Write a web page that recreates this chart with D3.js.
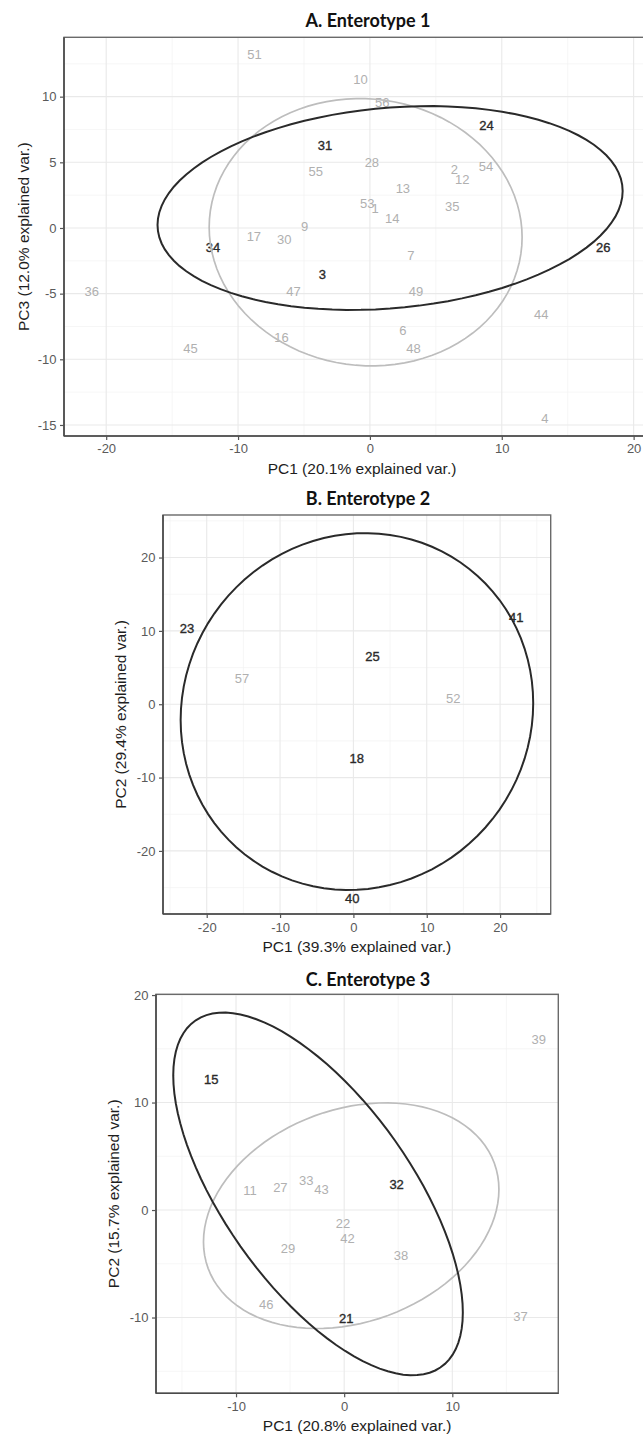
<!DOCTYPE html>
<html lang="en">
<head>
<meta charset="UTF-8">
<title>Enterotype PCA biplots</title>
<script src="https://d3js.org/d3.v7.min.js"></script>
<style>
    body { margin: 0; background: #fff; }
    svg { display: block; font-family: "Liberation Sans", Arial, sans-serif; }
    .panel-title { font-family: Lato, "Open Sans", sans-serif; font-weight: bold; font-size: 18px; fill: #111; }
    .axis-title { font-size: 15.5px; fill: #1e1e1e; }
    .tick text { font-size: 13px; fill: #5a5a5a; }
    .tick line { stroke: #555; stroke-width: 1.2; }
    .grid-major { stroke: #e9e9e9; stroke-width: 1.1; }
    .grid-minor { stroke: #f2f2f2; stroke-width: 0.7; }
    .lbl { font-size: 13px; }
    .lbl.dark { stroke: #2a2a2a; stroke-width: 0.35; }
</style>
</head>
<body>
<svg width="643" height="1435"></svg>
<script>
    // ---- data ----
    const panelTitles = ["A. Enterotype 1", "B. Enterotype 2", "C. Enterotype 3"];
    const xAxisTitles = ["PC1 (20.1% explained var.)", "PC1 (39.3% explained var.)", "PC1 (20.8% explained var.)"];
    const yAxisTitles = ["PC3 (12.0% explained var.)", "PC2 (29.4% explained var.)", "PC2 (15.7% explained var.)"];

    // panel A: sample id, PC1, PC3, group (1 = dark, 2 = grey)
    const idsA = [51, 10, 56, 24, 31, 28, 55, 2, 54, 12, 13, 53, 1, 35, 14, 9, 17, 30, 34, 26, 7, 3, 36, 47, 49, 44, 6, 16, 45, 48, 4];
    const pc1A = [-8.76, -0.71, 0.93, 8.85, -3.4, 0.15, -4.1, 6.4, 8.8, 7.0, 2.5, -0.2, 0.4, 6.25, 1.7, -4.95, -8.8, -6.5, -11.9, 17.7, 3.1, -3.6, -21.1, -5.8, 3.5, 13.0, 2.5, -6.7, -13.6, 3.3, 13.26];
    const pc3A = [13.2, 11.3, 9.6, 7.8, 6.3, 5.0, 4.3, 4.5, 4.7, 3.7, 3.0, 1.9, 1.5, 1.65, 0.7, 0.15, -0.64, -0.87, -1.5, -1.5, -2.1, -3.5, -4.8, -4.8, -4.8, -6.6, -7.8, -8.3, -9.2, -9.2, -14.5];
    const grpA = [2, 2, 2, 1, 1, 2, 2, 2, 2, 2, 2, 2, 2, 2, 2, 2, 2, 2, 1, 1, 2, 1, 2, 2, 2, 2, 2, 2, 2, 2, 2];

    // panel B: sample id, PC1, PC2, group
    const idsB = [23, 57, 18, 25, 40, 41, 52];
    const pc1B = [-22.7, -15.2, 0.45, 2.6, -0.15, 22.2, 13.6];
    const pc2B = [10.4, 3.5, -7.4, 6.5, -26.4, 11.9, 0.8];
    const grpB = [1, 2, 1, 1, 1, 1, 2];

    // panel C: sample id, PC1, PC2, group
    const idsC = [15, 11, 27, 33, 43, 22, 42, 29, 46, 21, 32, 38, 39, 37];
    const pc1C = [-12.3, -8.7, -5.9, -3.5, -2.1, -0.1, 0.3, -5.2, -7.2, 0.2, 4.85, 5.25, 18.0, 16.3];
    const pc2C = [12.2, 1.8, 2.1, 2.8, 1.95, -1.25, -2.6, -3.6, -8.8, -10.1, 2.4, -4.2, 15.9, -9.9];
    const grpC = [1, 2, 2, 2, 2, 2, 2, 2, 2, 1, 1, 2, 2, 2];

    // axis extents and ticks
    const xDomA = [-23.2, 22.0], yDomA = [-15.84, 14.52];
    const xDomB = [-25.96, 26.9], yDomB = [-28.6, 25.8];
    const xDomC = [-17.4, 19.8], yDomC = [-17.05, 20.07];
    const xTicksA = [-20, -10, 0, 10, 20], yTicksA = [-15, -10, -5, 0, 5, 10];
    const xMinorA = [-15, -5, 5, 15], yMinorA = [-12.5, -7.5, -2.5, 2.5, 7.5, 12.5];
    const xTicksB = [-20, -10, 0, 10, 20], yTicksB = [-20, -10, 0, 10, 20];
    const xMinorB = [-25, -15, -5, 5, 15, 25], yMinorB = [-25, -15, -5, 5, 15, 25];
    const xTicksC = [-10, 0, 10], yTicksC = [-10, 0, 10, 20];
    const xMinorC = [-15, -5, 5, 15], yMinorC = [-15, -5, 5, 15];

    const ellipseProb = 0.68;

    // ---- layout ----
    const layout = [
        { box: [64, 37.3, 660, 436], titleY: 27, tickPad: 4.2, yTitleX: 23 },
        { box: [163, 515, 550.7, 914], titleY: 505, tickPad: 5.2, yTitleX: 120 },
        { box: [156, 994.3, 558.3, 1393.3], titleY: 986, tickPad: 4.5, yTitleX: 113 }
    ];
    const titleX = 368;
    const darkCol = "#2a2a2a", greyCol = "#b0b0b0";
    const ellCol = { 1: "#2a2a2a", 2: "#bdbdbd" };

    const panels = [
        { ids: idsA, xs: pc1A, ys: pc3A, grp: grpA, xDom: xDomA, yDom: yDomA, xT: xTicksA, yT: yTicksA, xM: xMinorA, yM: yMinorA },
        { ids: idsB, xs: pc1B, ys: pc2B, grp: grpB, xDom: xDomB, yDom: yDomB, xT: xTicksB, yT: yTicksB, xM: xMinorB, yM: yMinorB },
        { ids: idsC, xs: pc1C, ys: pc2C, grp: grpC, xDom: xDomC, yDom: yDomC, xT: xTicksC, yT: yTicksC, xM: xMinorC, yM: yMinorC }
    ];

    const svg = d3.select("svg");
    svg.append("rect").attr("width", 643).attr("height", 1435).attr("fill", "#fff");

    // normal data ellipse, same recipe as ggbiplot
    function ellipse(xs, ys) {
        const n = xs.length;
        const mx = d3.mean(xs), my = d3.mean(ys);
        let sxx = 0, syy = 0, sxy = 0;
        for (let i = 0; i < n; i++) {
            sxx += (xs[i] - mx) ** 2;
            syy += (ys[i] - my) ** 2;
            sxy += (xs[i] - mx) * (ys[i] - my);
        }
        sxx /= n - 1; syy /= n - 1; sxy /= n - 1;
        const r11 = Math.sqrt(sxx), r12 = sxy / r11, r22 = Math.sqrt(syy - r12 * r12);
        const ed = Math.sqrt(-2 * Math.log(1 - ellipseProb));
        return d3.range(100).map(k => {
            const t = -Math.PI + 2 * Math.PI * k / 100;
            return [mx + ed * Math.cos(t) * r11, my + ed * (Math.cos(t) * r12 + Math.sin(t) * r22)];
        });
    }

    panels.forEach((p, i) => {
        const [l, t, r, b] = layout[i].box;
        const x = d3.scaleLinear().domain(p.xDom).range([l, r]);
        const y = d3.scaleLinear().domain(p.yDom).range([b, t]);
        const g = svg.append("g");

        g.append("clipPath").attr("id", "clip" + i)
            .append("rect").attr("x", l).attr("y", t).attr("width", r - l).attr("height", b - t);

        // grid
        g.append("g").selectAll("line").data(p.xM).join("line").attr("class", "grid-minor")
            .attr("x1", d => x(d)).attr("x2", d => x(d)).attr("y1", t).attr("y2", b);
        g.append("g").selectAll("line").data(p.yM).join("line").attr("class", "grid-minor")
            .attr("x1", l).attr("x2", r).attr("y1", d => y(d)).attr("y2", d => y(d));
        g.append("g").selectAll("line").data(p.xT).join("line").attr("class", "grid-major")
            .attr("x1", d => x(d)).attr("x2", d => x(d)).attr("y1", t).attr("y2", b);
        g.append("g").selectAll("line").data(p.yT).join("line").attr("class", "grid-major")
            .attr("x1", l).attr("x2", r).attr("y1", d => y(d)).attr("y2", d => y(d));

        const plot = g.append("g").attr("clip-path", `url(#clip${i})`);

        // sample labels
        plot.selectAll("text").data(p.ids).join("text")
            .attr("class", (d, k) => p.grp[k] === 1 ? "lbl dark" : "lbl")
            .attr("x", (d, k) => x(p.xs[k]))
            .attr("y", (d, k) => y(p.ys[k]))
            .attr("dy", "0.36em")
            .attr("text-anchor", "middle")
            .attr("fill", (d, k) => p.grp[k] === 1 ? darkCol : greyCol)
            .text(d => d);

        // ellipses for groups with enough samples
        const line = d3.line().x(d => x(d[0])).y(d => y(d[1])).curve(d3.curveLinearClosed);
        [2, 1].forEach(gr => {
            const idx = p.grp.map((v, k) => v === gr ? k : -1).filter(k => k >= 0);
            if (idx.length < 3) return;
            const pts = ellipse(idx.map(k => p.xs[k]), idx.map(k => p.ys[k]));
            plot.append("path").attr("d", line(pts))
                .attr("fill", "none")
                .attr("stroke", ellCol[gr])
                .attr("stroke-width", gr === 1 ? 2 : 1.7);
        });

        // border
        g.append("rect").attr("x", l).attr("y", t).attr("width", r - l).attr("height", b - t)
            .attr("fill", "none").attr("stroke", "#6a6a6a").attr("stroke-width", 1.4);
        g.append("line").attr("x1", l).attr("x2", l).attr("y1", t).attr("y2", b)
            .attr("stroke", "#4a4a4a").attr("stroke-width", 1.6);
        g.append("line").attr("x1", l).attr("x2", r).attr("y1", b).attr("y2", b)
            .attr("stroke", "#4a4a4a").attr("stroke-width", 1.6);

        // axes
        const ax = g.append("g").attr("transform", `translate(0,${b})`)
            .call(d3.axisBottom(x).tickValues(p.xT).tickFormat(d => String(d)).tickSize(4).tickPadding(layout[i].tickPad));
        const ay = g.append("g").attr("transform", `translate(${l},0)`)
            .call(d3.axisLeft(y).tickValues(p.yT).tickFormat(d => String(d)).tickSize(4).tickPadding(3.5));
        ax.select(".domain").remove();
        ay.select(".domain").remove();
        ax.attr("font-family", null).attr("font-size", null);
        ay.attr("font-family", null).attr("font-size", null);

        // titles
        svg.append("text").attr("class", "panel-title")
            .attr("x", titleX).attr("y", layout[i].titleY)
            .attr("text-anchor", "middle").text(panelTitles[i]);
        svg.append("text").attr("class", "axis-title")
            .attr("x", (l + r) / 2).attr("y", b + 38)
            .attr("text-anchor", "middle").text(xAxisTitles[i]);
        svg.append("text").attr("class", "axis-title")
            .attr("transform", `translate(${layout[i].yTitleX},${(t + b) / 2}) rotate(-90)`)
            .attr("dy", "0.36em")
            .attr("text-anchor", "middle").text(yAxisTitles[i]);
    });
</script>
</body>
</html>
